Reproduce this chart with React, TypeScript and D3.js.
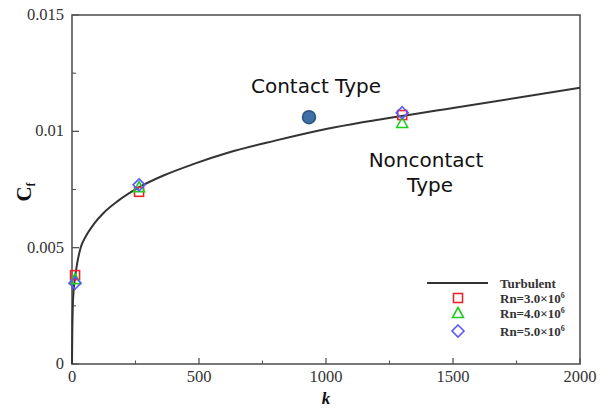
import React from "react";
import * as d3 from "d3";

// Turbulent skin-friction curve (k vs Cf)
const curveK = [0, 1, 3, 6, 12, 20, 34, 55, 85, 125, 180, 265, 360, 480, 620, 800, 1000, 1500, 2000];
const curveCf = [0, 0.0012, 0.0024, 0.0031, 0.0037, 0.0043, 0.005, 0.0055, 0.006, 0.0065, 0.007, 0.0076, 0.0081, 0.0086, 0.0091, 0.0096, 0.0101, 0.011, 0.01187];

// Measured points per Reynolds number
const pointK = [12, 264, 1300];
const cfRn3 = [0.00382, 0.0074, 0.0107];
const cfRn4 = [0.00365, 0.0076, 0.01036];
const cfRn5 = [0.00348, 0.0077, 0.0108];

// Contact-type result
const contactK = [933];
const contactCf = [0.01061];

const xTicks = [0, 500, 1000, 1500, 2000];
const xMinor = [250, 750, 1250, 1750];
const yTicks = [0, 0.005, 0.01, 0.015];
const yTickLabels = ["0", "0.005", "0.01", "0.015"];
const yMinor = [0.0025, 0.0075, 0.0125];

const legendLabels = ["Rn=3.0×10", "Rn=4.0×10", "Rn=5.0×10"];

const W = 611;
const H = 409;
const left = 72, right = 580, top = 15, bottom = 364;

export default function App() {
  const x = d3.scaleLinear().domain([0, 2000]).range([left, right]);
  const y = d3.scaleLinear().domain([0, 0.015]).range([bottom, top]);

  const line = d3
    .line<number>()
    .x((_, i) => x(curveK[i]))
    .y((d) => y(d))
    .curve(d3.curveMonotoneX);

  const axisColor = "#555";
  const serif = "'Liberation Serif', 'Times New Roman', serif";
  const sans = "'DejaVu Sans', sans-serif";

  const square = (cx: number, cy: number, key: string) => (
    <rect key={key} x={cx - 4.5} y={cy - 4.5} width={9} height={9} fill="none" stroke="#e8262b" strokeWidth={1.6} />
  );
  const triangle = (cx: number, cy: number, key: string) => (
    <path key={key} d={`M${cx},${cy - 5.5}L${cx + 5.5},${cy + 4.5}L${cx - 5.5},${cy + 4.5}Z`} fill="none" stroke="#22cc22" strokeWidth={1.6} />
  );
  const diamond = (cx: number, cy: number, key: string) => (
    <path key={key} d={`M${cx},${cy - 6}L${cx + 6},${cy}L${cx},${cy + 6}L${cx - 6},${cy}Z`} fill="none" stroke="#5a5aff" strokeWidth={1.6} />
  );

  const legendRowY = [298, 313, 331];

  return (
    <svg width={W} height={H} style={{ position: "absolute", left: 0, top: 0, background: "#fff" }}>
      <rect x={0} y={0} width={W} height={H} fill="#fff" />

      {/* frame */}
      <rect x={left} y={top} width={right - left} height={bottom - top} fill="none" stroke={axisColor} strokeWidth={1.6} />

      {/* x ticks */}
      {xTicks.map((t) => (
        <g key={"xt" + t}>
          <line x1={x(t)} x2={x(t)} y1={bottom} y2={bottom - 6} stroke={axisColor} strokeWidth={1.3} />
          <text x={x(t)} y={382} textAnchor="middle" fontFamily={serif} fontSize={16.5} fill="#333">
            {t}
          </text>
        </g>
      ))}
      {xMinor.map((t) => (
        <line key={"xm" + t} x1={x(t)} x2={x(t)} y1={bottom} y2={bottom - 3.5} stroke={axisColor} strokeWidth={1.1} />
      ))}

      {/* y ticks */}
      {yTicks.map((t, i) => (
        <g key={"yt" + t}>
          <line x1={left} x2={left + 7} y1={y(t)} y2={y(t)} stroke={axisColor} strokeWidth={1.3} />
          <text x={64} y={y(t) + 5} textAnchor="end" fontFamily={serif} fontSize={16.5} fill="#333">
            {yTickLabels[i]}
          </text>
        </g>
      ))}
      {yMinor.map((t) => (
        <line key={"ym" + t} x1={left} x2={left + 4} y1={y(t)} y2={y(t)} stroke={axisColor} strokeWidth={1.1} />
      ))}

      {/* axis titles */}
      <text x={326} y={404} textAnchor="middle" fontFamily={serif} fontSize={17} fontWeight="bold" fontStyle="italic" fill="#111">
        k
      </text>
      <text transform="translate(31,192) rotate(-90)" textAnchor="middle" fontFamily={serif} fontSize={21} fontWeight="bold" fill="#111">
        C
        <tspan fontSize={12} dy={4}>f</tspan>
      </text>

      {/* turbulent curve */}
      <path d={line(curveCf) || ""} fill="none" stroke="#333" strokeWidth={2} />

      {/* measured points */}
      {pointK.map((k, i) => square(x(k), y(cfRn3[i]), "s" + i))}
      {pointK.map((k, i) => triangle(x(k), y(cfRn4[i]), "t" + i))}
      {pointK.map((k, i) => diamond(x(k), y(cfRn5[i]), "d" + i))}

      {/* contact type point */}
      {contactK.map((k, i) => (
        <circle key={"c" + i} cx={x(k)} cy={y(contactCf[i])} r={6.5} fill="#3f6fa6" stroke="#2c5282" strokeWidth={1.5} />
      ))}

      {/* annotations */}
      <text x={316} y={93} textAnchor="middle" fontFamily={sans} fontSize={20} fill="#111">
        Contact Type
      </text>
      <text x={426} y={167} textAnchor="middle" fontFamily={sans} fontSize={20} fill="#111">
        Noncontact
      </text>
      <text x={430} y={192} textAnchor="middle" fontFamily={sans} fontSize={20} fill="#111">
        Type
      </text>

      {/* legend */}
      <line x1={427} x2={488} y1={283} y2={283} stroke="#333" strokeWidth={2} />
      <text x={500} y={287.5} fontFamily={serif} fontSize={13} fontWeight="bold" fill="#333">
        Turbulent
      </text>
      {square(458, legendRowY[0], "ls")}
      {triangle(458, legendRowY[1], "lt")}
      {diamond(458, legendRowY[2], "ld")}
      {legendLabels.map((lab, i) => (
        <text key={"ll" + i} x={500} y={legendRowY[i] + 4.5} fontFamily={serif} fontSize={13} fontWeight="bold" fill="#333">
          {lab}
          <tspan fontSize={8} dy={-5}>6</tspan>
        </text>
      ))}
    </svg>
  );
}
